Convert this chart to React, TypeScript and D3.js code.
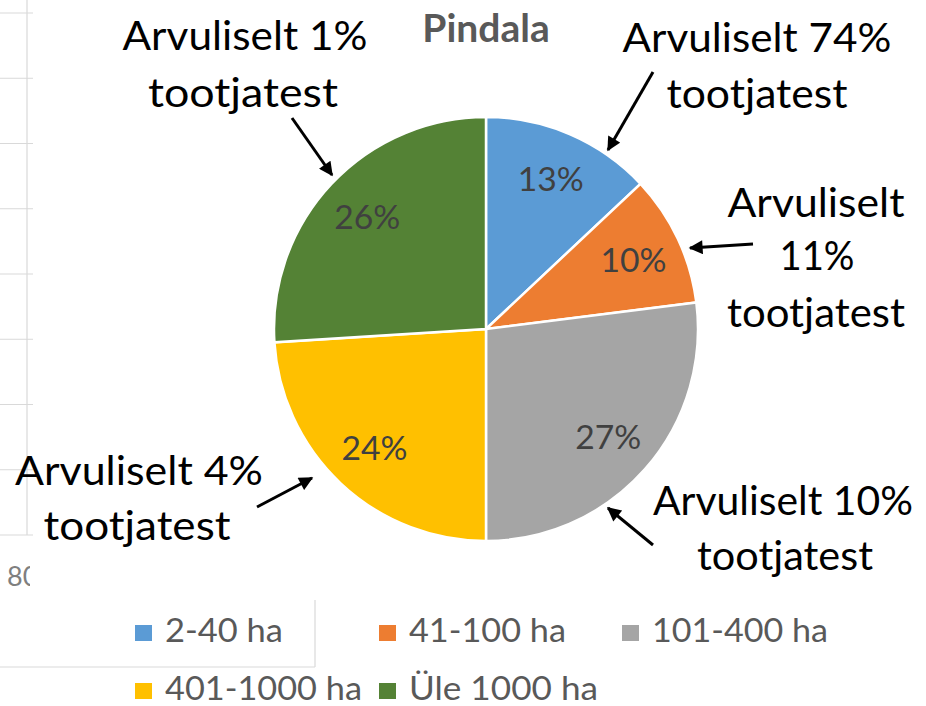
import React from 'react';
import * as d3 from 'd3';

// slices of the pie (share of total area, %)
const categories = ['2-40 ha', '41-100 ha', '101-400 ha', '401-1000 ha', 'Üle 1000 ha'];
const areaShares = [13, 10, 27, 24, 26];
const colors = ['#5B9BD5', '#ED7D31', '#A5A5A5', '#FFC000', '#548235'];
// share of producers in each size group, %
const producerShares = [74, 11, 10, 4, 1];
const title = 'Pindala';

const W = 926;
const H = 706;
const cx = 486;
const cy = 329;
const radius = 212;
const font = 'Lato, "Open Sans", sans-serif';

// annotation layout, one entry per slice (same order as categories)
// lines: [text-center x, baseline y, width]; arrow: tail -> tip
const annoLayout = [
  { lines: [[757, 52, 269], [757, 108, 181]], split: 1, arrow: [653, 72, 608, 150] },
  { lines: [[816, 217, 177], [817, 270, 75], [816, 327, 178]], split: 2, arrow: [753, 244, 690, 248] },
  { lines: [[783, 515, 260], [785, 570, 176]], split: 1, arrow: [653, 545, 608, 508] },
  { lines: [[139, 485, 248], [137, 540, 187]], split: 1, arrow: [257, 507, 312, 478] },
  { lines: [[245, 50, 245], [243, 107, 190]], split: 1, arrow: [292, 118, 332, 175] },
];

// legend item layout: [square x, row baseline y, text width]
const legendLayout = [
  [135, 642, 118],
  [379, 642, 157],
  [622, 642, 176],
  [135, 700, 197],
  [379, 700, 189],
];

function annoText(i: number) {
  const p = producerShares[i];
  if (annoLayout[i].split === 2) return ['Arvuliselt', p + '%', 'tootjatest'];
  return ['Arvuliselt ' + p + '%', 'tootjatest'];
}

export default function App() {
  const pie = d3
    .pie<number>()
    .sort(null)
    .value(d => d);
  const arcs = pie(areaShares);
  const arc = d3.arc<d3.PieArcDatum<number>>().innerRadius(0).outerRadius(radius);
  const labelArc = d3.arc<d3.PieArcDatum<number>>().innerRadius(163).outerRadius(163);

  // leftover gridlines from the chart behind
  const gy = d3.scaleLinear().domain([0, 8]).range([535, 13]);
  const gridTicks = gy.ticks(8);

  return (
    <svg width={W} height={H} style={{ position: 'absolute', left: 0, top: 0, background: '#fff' }}>
      <defs>
        <marker
          id="arrow"
          viewBox="0 0 10 10"
          refX={9}
          refY={5}
          markerWidth={16}
          markerHeight={14}
          markerUnits="userSpaceOnUse"
          orient="auto"
        >
          <path d="M0,0 L10,5 L0,10 Z" fill="#000" />
        </marker>
        <clipPath id="clip80">
          <rect x={0} y={550} width={30} height={45} />
        </clipPath>
      </defs>

      <g stroke="#d9d9d9" strokeWidth={1.2}>
        <line x1={27} x2={27} y1={0} y2={535} />
        {gridTicks.map(t => (
          <line key={t} x1={0} x2={33} y1={gy(t)} y2={gy(t)} />
        ))}
        <line x1={315} x2={315} y1={600} y2={667} />
        <line x1={0} x2={315} y1={667} y2={667} />
      </g>
      <text x={7} y={586} fontFamily={font} fontSize={27} fill="#7f7f7f" clipPath="url(#clip80)">
        80
      </text>

      <text x={cx} y={42} textAnchor="middle" fontFamily={font} fontWeight="bold" fontSize={39} fill="#595959">
        {title}
      </text>

      <g transform={`translate(${cx},${cy})`}>
        {arcs.map((a, i) => (
          <path key={i} d={arc(a) || ''} fill={colors[i]} stroke="#fff" strokeWidth={2.5} />
        ))}
        {arcs.map((a, i) => {
          const [x, y] = labelArc.centroid(a);
          return (
            <text
              key={i}
              x={x}
              y={y + 12}
              textAnchor="middle"
              fontFamily={font}
              fontSize={33}
              fill="#404040"
              textLength={66}
              lengthAdjust="spacingAndGlyphs"
            >
              {areaShares[i]}%
            </text>
          );
        })}
      </g>

      {annoLayout.map((l, i) => {
        const lines = annoText(i);
        const [x1, y1, x2, y2] = l.arrow;
        return (
          <g key={i}>
            {lines.map((s, j) => (
              <text
                key={j}
                x={l.lines[j][0]}
                y={l.lines[j][1]}
                textAnchor="middle"
                fontFamily={font}
                fontSize={41}
                fill="#000"
                textLength={l.lines[j][2]}
                lengthAdjust="spacingAndGlyphs"
              >
                {s}
              </text>
            ))}
            <line x1={x1} y1={y1} x2={x2} y2={y2} stroke="#000" strokeWidth={3} markerEnd="url(#arrow)" />
          </g>
        );
      })}

      {categories.map((c, i) => {
        const [lx, ly, tw] = legendLayout[i];
        return (
          <g key={c}>
            <rect x={lx} y={ly - 17} width={17} height={16} fill={colors[i]} />
            <text
              x={lx + 30}
              y={ly}
              fontFamily={font}
              fontSize={32}
              fill="#595959"
              textLength={tw}
              lengthAdjust="spacingAndGlyphs"
            >
              {c}
            </text>
          </g>
        );
      })}
    </svg>
  );
}
